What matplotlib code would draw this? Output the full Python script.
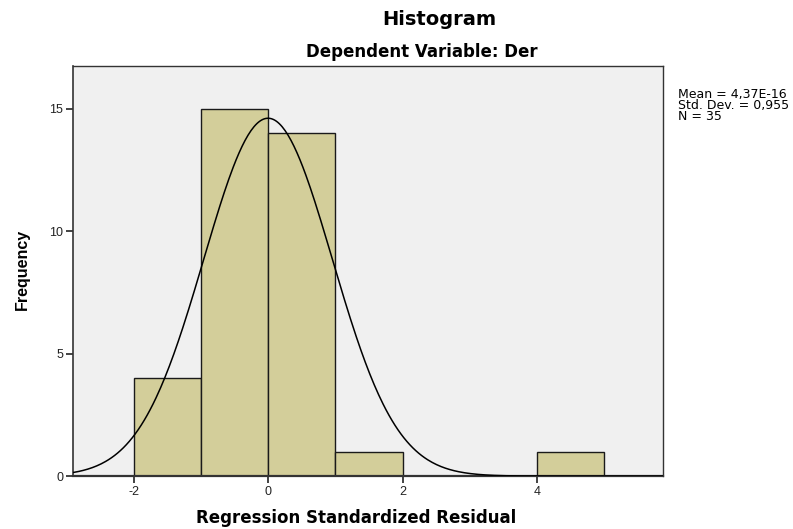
import numpy as np
import matplotlib.pyplot as plt

# ============================== DATA ==============================
bin_left = [-2, -1, 0, 1, 4]
counts = [4, 15, 14, 1, 1]
bin_width = 1.0

mean = 4.37e-16
std = 0.955
n = 35

xticks = [-2, 0, 2, 4]
yticks = [0, 5, 10, 15]

# ============================== PLOT ==============================
plt.rcParams['font.family'] = ['Liberation Sans', 'DejaVu Sans']
plt.rcParams['axes.unicode_minus'] = False

fig = plt.figure(figsize=(7.93, 5.29), dpi=100)
ax = fig.add_axes([0.092, 0.100, 0.744, 0.775])
ax.set_facecolor('#f0f0f0')

ax.bar(bin_left, counts, width=bin_width, align='edge',
       color='#d3ce9a', edgecolor='#1a1a1a', linewidth=1.0, zorder=2)

# fitted normal curve
xs = np.linspace(-2.9, 5.9, 400)
ys = n * bin_width / (std * np.sqrt(2 * np.pi)) * np.exp(-0.5 * ((xs - mean) / std) ** 2)
ax.plot(xs, ys, color='black', linewidth=1.1, zorder=3)

ax.set_xlim(-2.9, 5.87)
ax.set_ylim(0, 16.75)
ax.set_xticks(xticks)
ax.set_yticks(yticks)
ax.tick_params(direction='out', length=5, width=1.2, labelsize=9,
               colors='#222222', pad=2)
for s in ax.spines.values():
    s.set_color('#333333')
    s.set_linewidth(1.0)
ax.spines['bottom'].set_linewidth(1.6)
ax.spines['left'].set_linewidth(1.2)

# titles / labels
tfont = dict(family='DejaVu Sans', fontweight='bold')
fig.text(0.554, 0.964, 'Histogram', ha='center', va='center', fontsize=14, **tfont)
fig.text(0.532, 0.901, 'Dependent Variable: Der', ha='center', va='center',
         fontsize=12, **tfont)
fig.text(0.449, 0.021, 'Regression Standardized Residual', ha='center',
         va='center', fontsize=12, **tfont)
fig.text(0.028, 0.49, 'Frequency', ha='center', va='center', rotation=90,
         fontsize=11.5, fontweight='bold')

fig.text(0.855, 0.800, 'Mean = 4,37E-16\nStd. Dev. = 0,955\nN = 35',
         ha='left', va='center', fontsize=9, family='DejaVu Sans',
         linespacing=0.8)

plt.savefig('out.png', dpi=100)
